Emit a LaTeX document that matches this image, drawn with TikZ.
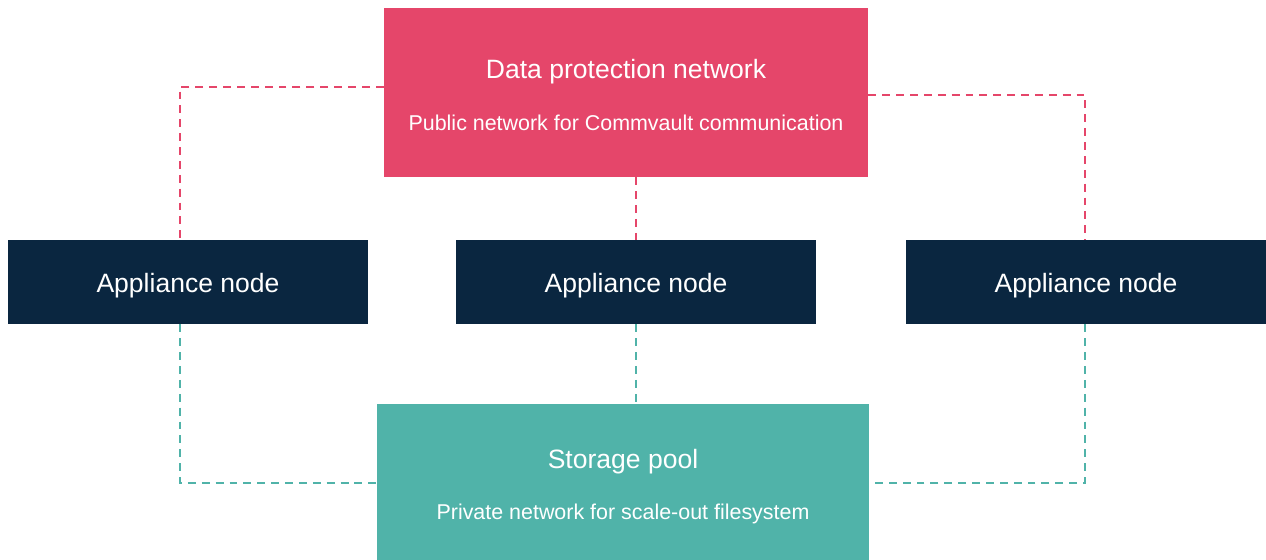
\documentclass[tikz,border=0pt]{standalone}
\usepackage{fontspec}
\setmainfont{Liberation Sans}
\usetikzlibrary{positioning}

\definecolor{dpnred}{HTML}{E5466A}
\definecolor{appnavy}{HTML}{0A2640}
\definecolor{poolteal}{HTML}{50B3A9}

\newcommand{\titletext}{\fontsize{15.1}{18}\selectfont}
\newcommand{\subtext}{\fontsize{12.2}{15}\selectfont}

\tikzset{
	netbox/.style={fill=#1, inner sep=0pt},
	nettitle/.style={text=white, inner sep=0pt, font=\titletext},
	netsub/.style={text=white, inner sep=0pt, font=\subtext},
	appbox/.style={netbox=appnavy, text=white, minimum width=360*0.02cm, minimum height=84*0.02cm, font=\titletext, text height=13pt, text depth=1pt},
	netlink/.style={draw=#1, line width=1.1pt, dash pattern=on 4.5pt off 3.4pt}
}

\begin{document}
\begin{tikzpicture}[x=0.02cm, y=-0.02cm]
\useasboundingbox (0,0) rectangle (1266,560);

\pgfmathsetmacro{\leftx}{180}
\pgfmathsetmacro{\rightx}{1085}

% networks
\node[netbox=dpnred, minimum width=484*0.02cm, minimum height=169*0.02cm] (dpn) at (626,92.5) {};
\node[nettitle] (dpntitle) at ([yshift=-1.28cm]dpn.north) {Data protection network};
\node[netsub] (dpnsub) at ([yshift=-2.31cm]dpn.north) {Public network for Commvault communication};

\node[netbox=poolteal, minimum width=492*0.02cm, minimum height=156*0.02cm] (pool) at (623,482) {};
\node[nettitle] (pooltitle) at ([yshift=-1.16cm]pool.north) {Storage pool};
\node[netsub] (poolsub) at ([yshift=-2.2cm]pool.north) {Private network for scale-out filesystem};

% appliances
\node[appbox] (app1) at (188,282) {Appliance node};
\node[appbox] (app2) at (636,282) {Appliance node};
\node[appbox] (app3) at (1086,282) {Appliance node};

% public links
\draw[netlink=dpnred] (dpn.west |- 0,87) -| (app1.north -| \leftx,0);
\draw[netlink=dpnred] (dpn.south -| app2.north) -- (app2.north);
\draw[netlink=dpnred] (dpn.east |- 0,95) -| (app3.north -| \rightx,0);

% private links
\draw[netlink=poolteal] (app1.south -| \leftx,0) |- (pool.west |- 0,483);
\draw[netlink=poolteal] (app2.south) -- (pool.north -| app2.south);
\draw[netlink=poolteal] (app3.south -| \rightx,0) |- (pool.east |- 0,483);
\end{tikzpicture}
\end{document}
